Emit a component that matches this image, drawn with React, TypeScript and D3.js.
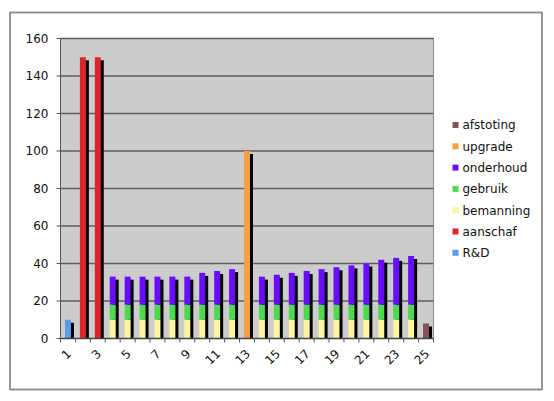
import React from "react";
import * as d3 from "d3";

const categories = Array.from({ length: 25 }, (_, i) => String(i + 1));
const seriesNames = ["R&D", "aanschaf", "bemanning", "gebruik", "onderhoud", "upgrade", "afstoting"];
const seriesColors = ["#5b9bea", "#e0242c", "#fff5a0", "#4ddb4d", "#6a0cff", "#f7a040", "#865258"];

const rd =        [10, 0, 0, 0, 0, 0, 0, 0, 0, 0, 0, 0, 0, 0, 0, 0, 0, 0, 0, 0, 0, 0, 0, 0, 0];
const aanschaf =  [0, 150, 150, 0, 0, 0, 0, 0, 0, 0, 0, 0, 0, 0, 0, 0, 0, 0, 0, 0, 0, 0, 0, 0, 0];
const bemanning = [0, 0, 0, 10, 10, 10, 10, 10, 10, 10, 10, 10, 0, 10, 10, 10, 10, 10, 10, 10, 10, 10, 10, 10, 0];
const gebruik =   [0, 0, 0, 8, 8, 8, 8, 8, 8, 8, 8, 8, 0, 8, 8, 8, 8, 8, 8, 8, 8, 8, 8, 8, 0];
const onderhoud = [0, 0, 0, 15, 15, 15, 15, 15, 15, 17, 18, 19, 0, 15, 16, 17, 18, 19, 20, 21, 22, 24, 25, 26, 0];
const upgrade =   [0, 0, 0, 0, 0, 0, 0, 0, 0, 0, 0, 0, 100, 0, 0, 0, 0, 0, 0, 0, 0, 0, 0, 0, 0];
const afstoting = [0, 0, 0, 0, 0, 0, 0, 0, 0, 0, 0, 0, 0, 0, 0, 0, 0, 0, 0, 0, 0, 0, 0, 0, 8];
const yTicks = [0, 20, 40, 60, 80, 100, 120, 140, 160];

const seriesValues = [rd, aanschaf, bemanning, gebruik, onderhoud, upgrade, afstoting];

export default function App() {
  const W = 554, H = 401;
  const plot = { left: 60.5, right: 433.5, top: 38.5, bottom: 338.5 };
  const font = "'DejaVu Sans', Verdana, sans-serif";

  const x = d3.scaleBand<string>()
    .domain(categories)
    .range([plot.left, plot.right])
    .paddingInner(0.6)
    .paddingOuter(0.3);
  const step = x.step();
  const y = d3.scaleLinear().domain([0, 160]).range([plot.bottom, plot.top]);

  const table = categories.map((c, i) => {
    const row: any = { cat: c };
    seriesNames.forEach((s, k) => (row[s] = seriesValues[k][i]));
    return row;
  });
  const stacked = d3.stack<any>().keys(seriesNames)(table);
  const totals = table.map((r) => seriesNames.reduce((a, s) => a + r[s], 0));

  const bounds = d3.range(categories.length + 1).map((i) => plot.left + i * step);

  return (
    <svg width={W} height={H} style={{ position: "absolute", left: 0, top: 0, background: "#fff" }}>
      <rect x={10} y={12.5} width={532} height={377} fill="#fff" stroke="#8a8a8a" strokeWidth={1.8} />
      <rect x={plot.left} y={plot.top} width={plot.right - plot.left} height={plot.bottom - plot.top}
        fill="#cccccc" stroke="#8a8a8a" strokeWidth={1} />
      {yTicks.map((t) => (
        <g key={t}>
          {t > 0 && (
            <line x1={plot.left} x2={plot.right} y1={y(t)} y2={y(t)} stroke="#5e5e5e" strokeWidth={1.4} />
          )}
          <line x1={plot.left - 4} x2={plot.left} y1={y(t)} y2={y(t)} stroke="#555" strokeWidth={1} />
          <text x={48.5} y={y(t)} dy="0.36em" textAnchor="end" fontFamily={font} fontSize={12} fill="#111">
            {t}
          </text>
        </g>
      ))}
      {categories.map((c, i) =>
        totals[i] > 0 ? (
          <rect key={"s" + c} x={(x(c) as number) + 3} y={y(totals[i]) + 3}
            width={x.bandwidth()} height={plot.bottom - y(totals[i]) - 3} fill="#000" />
        ) : null
      )}
      {stacked.map((layer, k) => (
        <g key={layer.key} fill={seriesColors[k]}>
          {layer.map((d, i) =>
            d[1] - d[0] > 0 ? (
              <rect key={i} x={x(categories[i]) as number} y={y(d[1])}
                width={x.bandwidth()} height={y(d[0]) - y(d[1])} />
            ) : null
          )}
        </g>
      ))}
      <line x1={plot.left} x2={plot.left} y1={plot.top} y2={plot.bottom} stroke="#555" strokeWidth={1} />
      <line x1={plot.left} x2={plot.right} y1={plot.bottom} y2={plot.bottom} stroke="#444" strokeWidth={1.4} />
      {bounds.map((b, i) => (
        <line key={i} x1={b} x2={b} y1={plot.bottom} y2={plot.bottom + 4} stroke="#555" strokeWidth={1} />
      ))}
      {categories.map((c, i) =>
        i % 2 === 0 ? (
          <text key={c} transform={`translate(${plot.left + (i + 0.5) * step + 4},${plot.bottom + 16}) rotate(-45)`}
            textAnchor="end" fontFamily={font} fontSize={12} fill="#111">
            {c}
          </text>
        ) : null
      )}
      {seriesNames.slice().reverse().map((s, j) => {
        const k = seriesNames.length - 1 - j;
        const cy = 125 + j * 21.3;
        return (
          <g key={s}>
            <rect x={452.5} y={cy - 3} width={6} height={6} fill={seriesColors[k]} />
            <text x={462.5} y={cy} dy="0.36em" fontFamily={font} fontSize={12} fill="#111">{s}</text>
          </g>
        );
      })}
    </svg>
  );
}
